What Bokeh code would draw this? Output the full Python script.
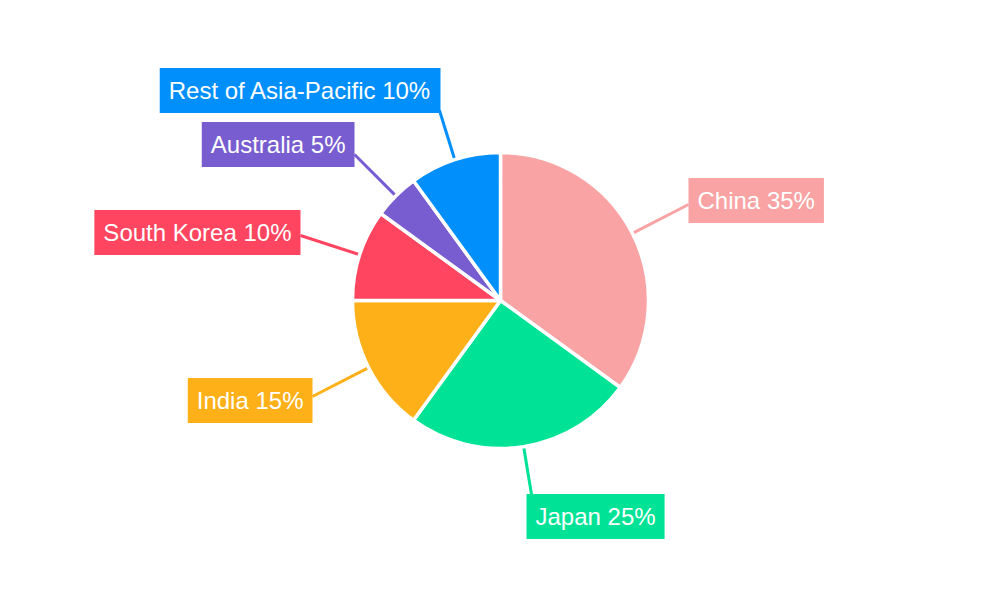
import numpy as np
from bokeh.plotting import figure
from bokeh.models import Range1d, Label
from bokeh.embed import file_html
from bokeh.resources import INLINE

# data
regions = ["China", "Japan", "India", "South Korea", "Australia", "Rest of Asia-Pacific"]
shares = [35, 25, 15, 10, 5, 10]
colors = ["#F9A3A4", "#00E396", "#FEB019", "#FF4560", "#775DD0", "#008FFB"]

# layout: where each label box is attached (screen px), and which side the box sits on
label_anchor = [(688, 200), (526, 516), (312, 400), (300, 232), (354, 144), (440, 90)]
label_side = ["center_left", "center_left", "center_right", "center_right", "center_right", "center_right"]
line_end = [(688, 204), (531, 494), (312, 396), (300, 235), (354, 154), (439, 110)]

W, H = 984, 584
cx, cy, r = 500, 300, 148

p = figure(width=W, height=H, output_backend="svg", toolbar_location=None,
           x_range=Range1d(0, W), y_range=Range1d(600 - H, 600), min_border=0)
p.axis.visible = False
p.grid.visible = False
p.outline_line_color = None

frac = np.array(shares) / sum(shares)
cum = np.concatenate([[0], np.cumsum(frac)])
start = np.pi / 2 - 2 * np.pi * cum[:-1]
end = np.pi / 2 - 2 * np.pi * cum[1:]
mid = (start + end) / 2

def Y(sy):
    return 600 - sy

# leader lines from slice edge to label
for i in range(len(regions)):
    x0 = cx + r * np.cos(mid[i])
    y0 = Y(cy) + r * np.sin(mid[i])
    ex, ey = line_end[i]
    p.line([x0, ex], [y0, Y(ey)], line_color=colors[i], line_width=3)

p.wedge(x=[cx] * len(regions), y=[Y(cy)] * len(regions), radius=r,
        start_angle=list(start), end_angle=list(end), direction="clock",
        fill_color=colors, line_color="white", line_width=3.5)

# padding is (horizontal, vertical)
for i, name in enumerate(regions):
    ax, ay = label_anchor[i]
    p.add_layout(Label(x=ax, y=Y(ay), text=f"{name} {shares[i]}%", anchor=label_side[i],
                       text_font="Liberation Sans", text_font_size="24px", text_color="white",
                       background_fill_color=colors[i], padding=(9, 9)))

open("out.html", "w").write(file_html(p, INLINE))
